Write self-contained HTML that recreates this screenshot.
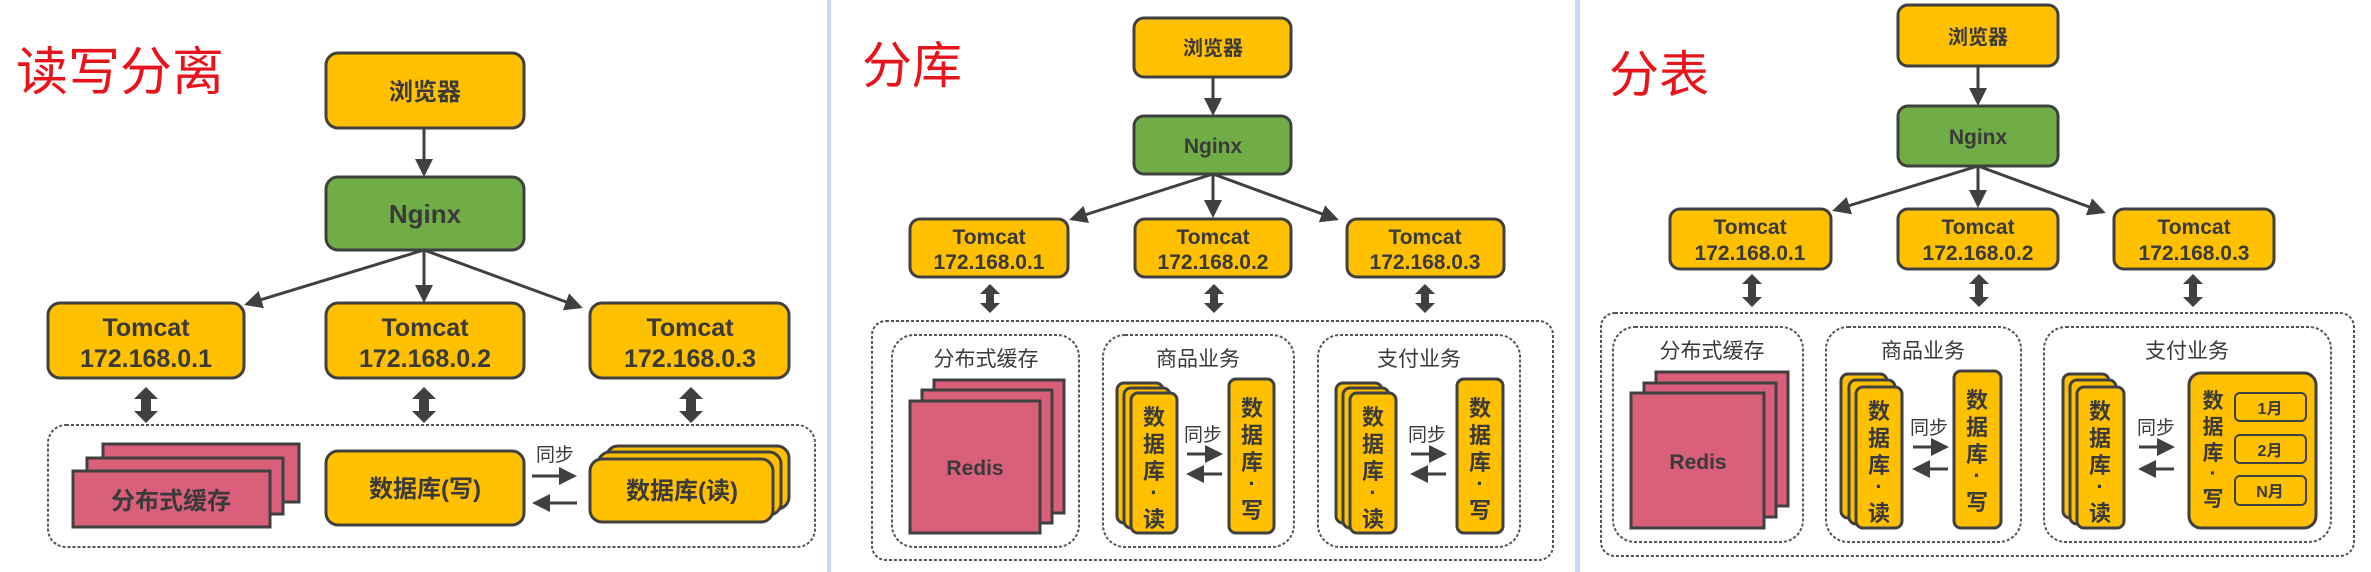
<!DOCTYPE html>
<html><head><meta charset="utf-8"><style>
html,body{margin:0;padding:0;background:#fff;}
svg{display:block;}
text{font-family:"Liberation Sans","Noto Sans CJK SC",sans-serif;font-weight:bold;fill:#3a3a3a;text-anchor:middle;}
.t{font-weight:normal;fill:#e8141c;text-anchor:start;}
.y{fill:#ffc000;stroke:#404040;stroke-width:3;}
.g{fill:#70ad47;stroke:#404040;stroke-width:3;}
.p{fill:#d95f7a;stroke:#404040;stroke-width:3;}
.d{fill:#fff;stroke:#555;stroke-width:2;stroke-dasharray:3 2;}
.ln{stroke:#404040;stroke-width:3;fill:none;}
.da{fill:#404040;}
</style></head><body>
<svg width="2371" height="572" viewBox="0 0 2371 572" xmlns="http://www.w3.org/2000/svg">
<defs>
<marker id="ah" markerWidth="6" markerHeight="6" refX="5" refY="3" orient="auto" markerUnits="strokeWidth">
<path d="M0,0 L6,3 L0,6 z" fill="#404040"/></marker>
</defs>
<rect x="827" y="0" width="4" height="572" fill="#c5dbf2"/>
<rect x="1575" y="0" width="5" height="572" fill="#c5dbf2"/>

<!-- PANEL 1 -->
<text class="t" x="16" y="90" font-size="52">读写分离</text>
<rect class="y" x="326" y="53" width="198" height="75" rx="12"/>
<text x="425" y="100" font-size="24">浏览器</text>
<line class="ln" x1="424" y1="128" x2="424" y2="174" marker-end="url(#ah)"/>
<rect class="g" x="326" y="177" width="198" height="73" rx="12"/>
<text x="425" y="223" font-size="26">Nginx</text>
<line class="ln" x1="424" y1="250" x2="247" y2="304" marker-end="url(#ah)"/>
<line class="ln" x1="424" y1="250" x2="424" y2="300" marker-end="url(#ah)"/>
<line class="ln" x1="424" y1="250" x2="580" y2="307" marker-end="url(#ah)"/>
<rect class="y" x="48" y="303" width="196" height="75" rx="12"/>
<text x="146" y="336" font-size="25">Tomcat</text><text x="146" y="367" font-size="25">172.168.0.1</text>
<rect class="y" x="326" y="303" width="198" height="75" rx="12"/>
<text x="425" y="336" font-size="25">Tomcat</text><text x="425" y="367" font-size="25">172.168.0.2</text>
<rect class="y" x="590" y="303" width="199" height="75" rx="12"/>
<text x="690" y="336" font-size="25">Tomcat</text><text x="690" y="367" font-size="25">172.168.0.3</text>
<polygon class="da" points="146,387 158,399 151,399 151,411 158,411 146,423 134,411 141,411 141,399 134,399"/>
<polygon class="da" points="424,387 436,399 429,399 429,411 436,411 424,423 412,411 419,411 419,399 412,399"/>
<polygon class="da" points="691,387 703,399 696,399 696,411 703,411 691,423 679,411 686,411 686,399 679,399"/>
<rect class="d" x="48" y="425" width="767" height="122" rx="18"/>
<rect class="p" x="103" y="444" width="196" height="58"/>
<rect class="p" x="87" y="458" width="196" height="56"/>
<rect class="p" x="73" y="471" width="197" height="56"/>
<text x="171" y="509" font-size="24">分布式缓存</text>
<rect class="y" x="326" y="451" width="198" height="74" rx="12"/>
<text x="425" y="497" font-size="24">数据库(写)</text>
<text x="555" y="461" font-size="19" style="font-weight:normal">同步</text>
<line class="ln" x1="532" y1="476" x2="574" y2="476" marker-end="url(#ah)"/>
<line class="ln" x1="577" y1="503" x2="535" y2="503" marker-end="url(#ah)"/>
<rect class="y" x="606" y="446" width="183" height="63" rx="12"/>
<rect class="y" x="598" y="452" width="183" height="63" rx="12"/>
<rect class="y" x="590" y="459" width="183" height="63" rx="12"/>
<text x="682" y="499" font-size="24">数据库(读)</text>

<!-- PANEL 2 -->
<text class="t" x="862" y="83" font-size="50">分库</text>
<rect class="y" x="1134" y="18" width="157" height="59" rx="10"/>
<text x="1213" y="55" font-size="20">浏览器</text>
<line class="ln" x1="1213" y1="77" x2="1213" y2="113" marker-end="url(#ah)"/>
<rect class="g" x="1134" y="116" width="157" height="58" rx="10"/>
<text x="1213" y="153" font-size="21">Nginx</text>
<line class="ln" x1="1213" y1="174" x2="1072" y2="219" marker-end="url(#ah)"/>
<line class="ln" x1="1213" y1="174" x2="1213" y2="215" marker-end="url(#ah)"/>
<line class="ln" x1="1213" y1="174" x2="1336" y2="219" marker-end="url(#ah)"/>
<rect class="y" x="910" y="219" width="158" height="58" rx="10"/>
<text x="989" y="244" font-size="21">Tomcat</text><text x="989" y="269" font-size="21">172.168.0.1</text>
<rect class="y" x="1135" y="219" width="156" height="58" rx="10"/>
<text x="1213" y="244" font-size="21">Tomcat</text><text x="1213" y="269" font-size="21">172.168.0.2</text>
<rect class="y" x="1347" y="219" width="157" height="58" rx="10"/>
<text x="1425" y="244" font-size="21">Tomcat</text><text x="1425" y="269" font-size="21">172.168.0.3</text>
<polygon class="da" points="990,284 1000,294 994,294 994,303 1000,303 990,313 980,303 986,303 986,294 980,294"/>
<polygon class="da" points="1214,284 1224,294 1218,294 1218,303 1224,303 1214,313 1204,303 1210,303 1210,294 1204,294"/>
<polygon class="da" points="1425,284 1435,294 1429,294 1429,303 1435,303 1425,313 1415,303 1421,303 1421,294 1415,294"/>
<rect class="d" x="872" y="321" width="681" height="239" rx="14"/>
<rect class="d" x="892" y="335" width="187" height="212" rx="22"/>
<rect class="d" x="1103" y="335" width="191" height="212" rx="22"/>
<rect class="d" x="1318" y="335" width="202" height="212" rx="22"/>
<text x="986" y="366" font-size="21" style="font-weight:normal">分布式缓存</text>
<text x="1198" y="366" font-size="21" style="font-weight:normal">商品业务</text>
<text x="1419" y="366" font-size="21" style="font-weight:normal">支付业务</text>
<rect class="p" x="934" y="380" width="130" height="133"/>
<rect class="p" x="922" y="390" width="130" height="133"/>
<rect class="p" x="910" y="401" width="130" height="132"/>
<text x="975" y="475" font-size="21">Redis</text>
<rect class="y" x="1117" y="383" width="46" height="140" rx="7"/>
<rect class="y" x="1124" y="388" width="46" height="140" rx="7"/>
<rect class="y" x="1131" y="393" width="46" height="140" rx="7"/>
<g font-size="22"><text x="1154" y="425">数</text><text x="1154" y="452">据</text><text x="1154" y="479">库</text><text x="1154" y="500">·</text><text x="1154" y="527">读</text></g>
<rect class="y" x="1229" y="379" width="45" height="154" rx="7"/>
<g font-size="22"><text x="1252" y="416">数</text><text x="1252" y="443">据</text><text x="1252" y="470">库</text><text x="1252" y="491">·</text><text x="1252" y="518">写</text></g>
<text x="1203" y="441" font-size="19" style="font-weight:normal">同步</text>
<line class="ln" x1="1187" y1="454" x2="1220" y2="454" marker-end="url(#ah)"/>
<line class="ln" x1="1222" y1="474" x2="1189" y2="474" marker-end="url(#ah)"/>
<rect class="y" x="1336" y="383" width="46" height="140" rx="7"/>
<rect class="y" x="1343" y="388" width="46" height="140" rx="7"/>
<rect class="y" x="1350" y="393" width="46" height="140" rx="7"/>
<g font-size="22"><text x="1373" y="425">数</text><text x="1373" y="452">据</text><text x="1373" y="479">库</text><text x="1373" y="500">·</text><text x="1373" y="527">读</text></g>
<rect class="y" x="1457" y="379" width="46" height="154" rx="7"/>
<g font-size="22"><text x="1480" y="416">数</text><text x="1480" y="443">据</text><text x="1480" y="470">库</text><text x="1480" y="491">·</text><text x="1480" y="518">写</text></g>
<text x="1427" y="441" font-size="19" style="font-weight:normal">同步</text>
<line class="ln" x1="1411" y1="454" x2="1444" y2="454" marker-end="url(#ah)"/>
<line class="ln" x1="1446" y1="474" x2="1413" y2="474" marker-end="url(#ah)"/>

<!-- PANEL 3 -->
<text class="t" x="1609" y="92" font-size="50">分表</text>
<rect class="y" x="1898" y="5" width="160" height="61" rx="10"/>
<text x="1978" y="44" font-size="20">浏览器</text>
<line class="ln" x1="1978" y1="66" x2="1978" y2="103" marker-end="url(#ah)"/>
<rect class="g" x="1898" y="106" width="160" height="60" rx="10"/>
<text x="1978" y="144" font-size="21">Nginx</text>
<line class="ln" x1="1978" y1="166" x2="1835" y2="210" marker-end="url(#ah)"/>
<line class="ln" x1="1978" y1="166" x2="1978" y2="205" marker-end="url(#ah)"/>
<line class="ln" x1="1978" y1="166" x2="2103" y2="212" marker-end="url(#ah)"/>
<rect class="y" x="1670" y="209" width="161" height="60" rx="10"/>
<text x="1750" y="234" font-size="21">Tomcat</text><text x="1750" y="260" font-size="21">172.168.0.1</text>
<rect class="y" x="1898" y="209" width="160" height="60" rx="10"/>
<text x="1978" y="234" font-size="21">Tomcat</text><text x="1978" y="260" font-size="21">172.168.0.2</text>
<rect class="y" x="2114" y="209" width="160" height="60" rx="10"/>
<text x="2194" y="234" font-size="21">Tomcat</text><text x="2194" y="260" font-size="21">172.168.0.3</text>
<polygon class="da" points="1752,274 1762,284 1756,284 1756,297 1762,297 1752,307 1742,297 1748,297 1748,284 1742,284"/>
<polygon class="da" points="1979,274 1989,284 1983,284 1983,297 1989,297 1979,307 1969,297 1975,297 1975,284 1969,284"/>
<polygon class="da" points="2193,274 2203,284 2197,284 2197,297 2203,297 2193,307 2183,297 2189,297 2189,284 2183,284"/>
<rect class="d" x="1601" y="313" width="753" height="243" rx="14"/>
<rect class="d" x="1613" y="327" width="190" height="215" rx="22"/>
<rect class="d" x="1826" y="327" width="195" height="215" rx="22"/>
<rect class="d" x="2044" y="327" width="287" height="215" rx="22"/>
<text x="1712" y="358" font-size="21" style="font-weight:normal">分布式缓存</text>
<text x="1923" y="358" font-size="21" style="font-weight:normal">商品业务</text>
<text x="2187" y="358" font-size="21" style="font-weight:normal">支付业务</text>
<rect class="p" x="1656" y="372" width="132" height="134"/>
<rect class="p" x="1644" y="383" width="132" height="134"/>
<rect class="p" x="1631" y="393" width="133" height="135"/>
<text x="1698" y="469" font-size="21">Redis</text>
<rect class="y" x="1841" y="374" width="46" height="144" rx="7"/>
<rect class="y" x="1849" y="380" width="46" height="144" rx="7"/>
<rect class="y" x="1856" y="387" width="46" height="141" rx="7"/>
<g font-size="22"><text x="1879" y="419">数</text><text x="1879" y="446">据</text><text x="1879" y="473">库</text><text x="1879" y="494">·</text><text x="1879" y="521">读</text></g>
<rect class="y" x="1954" y="371" width="47" height="157" rx="7"/>
<g font-size="22"><text x="1977" y="408">数</text><text x="1977" y="435">据</text><text x="1977" y="462">库</text><text x="1977" y="483">·</text><text x="1977" y="510">写</text></g>
<text x="1929" y="434" font-size="19" style="font-weight:normal">同步</text>
<line class="ln" x1="1913" y1="447" x2="1946" y2="447" marker-end="url(#ah)"/>
<line class="ln" x1="1948" y1="469" x2="1915" y2="469" marker-end="url(#ah)"/>
<rect class="y" x="2063" y="374" width="46" height="144" rx="7"/>
<rect class="y" x="2070" y="380" width="46" height="144" rx="7"/>
<rect class="y" x="2077" y="387" width="47" height="141" rx="7"/>
<g font-size="22"><text x="2100" y="419">数</text><text x="2100" y="446">据</text><text x="2100" y="473">库</text><text x="2100" y="494">·</text><text x="2100" y="521">读</text></g>
<text x="2156" y="434" font-size="19" style="font-weight:normal">同步</text>
<line class="ln" x1="2139" y1="447" x2="2172" y2="447" marker-end="url(#ah)"/>
<line class="ln" x1="2174" y1="469" x2="2141" y2="469" marker-end="url(#ah)"/>
<rect class="y" x="2189" y="373" width="127" height="155" rx="12"/>
<g font-size="21"><text x="2213" y="408">数</text><text x="2213" y="434">据</text><text x="2213" y="460">库</text><text x="2213" y="480">·</text><text x="2213" y="506">写</text></g>
<rect x="2235" y="393" width="71" height="28" rx="5" fill="none" stroke="#404040" stroke-width="2"/>
<text x="2270" y="414" font-size="16">1月</text>
<rect x="2235" y="435" width="71" height="28" rx="5" fill="none" stroke="#404040" stroke-width="2"/>
<text x="2270" y="456" font-size="16">2月</text>
<rect x="2235" y="476" width="71" height="29" rx="5" fill="none" stroke="#404040" stroke-width="2"/>
<text x="2270" y="497" font-size="16">N月</text>
</svg>
</body></html>
